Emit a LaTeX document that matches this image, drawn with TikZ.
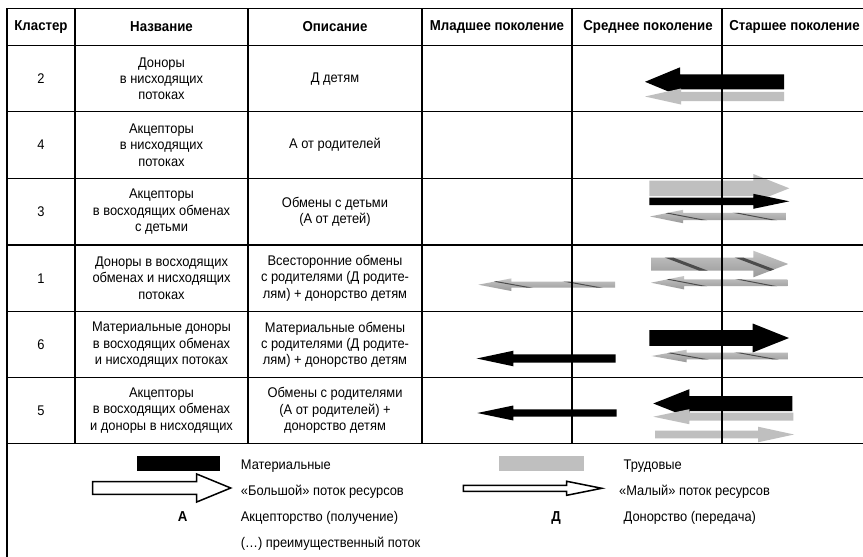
\documentclass[tikz,border=0pt]{standalone}
\usepackage{fontspec}
\setmainfont[FakeStretch=0.92]{Liberation Sans}
\newcommand{\harr}[7]{% #1 style; #2 tail; #3 tip; #4 cy; #5 shaft half; #6 head half; #7 head length
  \pgfmathsetmacro{\hb}{(#2>#3) ? #3+#7 : #3-#7}
  \path[#1] (#2,#4-#5) -- (\hb,#4-#5) -- (\hb,#4-#6) -- (#3,#4) -- (\hb,#4+#6) -- (\hb,#4+#5) -- (#2,#4+#5) -- cycle;
}
\newcommand{\twarr}[8]{% #1 tail; #2 tip; #3 cy; #4 shaft half; #5 head half; #6 head length; #7 stripe width; #8 period
  \pgfmathsetmacro{\hb}{(#1>#2) ? #2+#6 : #2-#6}
  \pgfmathsetmacro{\xmn}{min(#1,#2)}
  \pgfmathsetmacro{\xmx}{max(#1,#2)}
  \begin{scope}
    \clip (#1,#3-#4) -- (\hb,#3-#4) -- (\hb,#3-#5) -- (#2,#3) -- (\hb,#3+#5) -- (\hb,#3+#4) -- (#1,#3+#4) -- cycle;
    \shade[top color=gray!45, middle color=white, bottom color=gray!80] (\xmn,#3-#5) rectangle (\xmx,#3+#5);
    \foreach \k in {-1,...,3}{\draw[gray!60!black, line width=#7] ({\xmn+\k*#8},#3-#5) -- ++(#8,2*#5);}
  \end{scope}
}
\begin{document}
\begin{tikzpicture}[x=1pt,y=-1pt,
  grid/.style={line width=1.2pt, black},
  hdr/.style={font=\fontsize{14.4}{16}\selectfont\bfseries, inner sep=0pt},
  cell/.style={font=\fontsize{14}{16.3}\selectfont, align=center, inner sep=0pt},
  leg/.style={font=\fontsize{14}{16}\selectfont, anchor=base west, inner sep=0pt},
  legb/.style={font=\fontsize{14.4}{16}\selectfont\bfseries, anchor=base, inner sep=0pt},
  blk/.style={fill=black},
  gry/.style={fill=gray!50},
  openarr/.style={fill=white, draw=black, line width=1.5pt},
]
\fill[white] (0,0) rectangle (863,557);
\useasboundingbox (0,0) rectangle (863,557);

% ---------- arrows ----------
% row cluster 2
\harr{blk}{784}{645}{81.8}{7.5}{14.5}{35}
\harr{gry}{784}{645}{96.5}{4.7}{8}{36}
% row cluster 3
\harr{gry}{649.3}{789.3}{188.3}{7.7}{14.3}{36}
\harr{blk}{649.3}{789.3}{201.3}{3.7}{7.5}{36}
\twarr{786.7}{650}{216.5}{3.6}{6.7}{33}{1pt}{70}
% row cluster 1
\twarr{651}{788.3}{264}{6.5}{13.3}{35}{3pt}{70}
\twarr{787.3}{651}{282.7}{3.3}{6.7}{33}{1pt}{70}
\twarr{615}{478.3}{284.7}{3}{6.3}{33}{1pt}{70}
% row cluster 6
\harr{blk}{649.3}{789}{338}{7.8}{14.5}{36.3}
\twarr{788.3}{651.7}{356}{3.3}{6.3}{35}{1pt}{70}
\harr{blk}{615.7}{476.7}{358.5}{4.2}{7.8}{36.7}
% row cluster 5
\harr{blk}{792.3}{653.3}{403.5}{7.5}{14.3}{36}
\harr{gry}{793.3}{653.3}{416.7}{4}{7.5}{36}
\harr{gry}{655}{794}{434.5}{3.8}{7.8}{36}
\harr{blk}{616.7}{477.3}{413}{3.7}{7.5}{36}

% ---------- grid ----------
\foreach \yy in {8.3,45.5,111.7,178.3,245,311.5,377.8,443.3}
  \draw[grid] (7,\yy) -- (863,\yy);
\draw[grid] (7,8.3) -- (7,557);
\foreach \xx in {75,248,422,572,722}
  \draw[grid] (\xx,8.3) -- (\xx,443.3);

% ---------- header ----------
\node[hdr] (h1) at (41,27) {Кластер};
\node[hdr] (h2) at (161.5,27) {Название};
\node[hdr] (h3) at (335,27) {Описание};
\node[hdr] (h4) at (497,27) {Младшее поколение};
\node[hdr] (h5) at (648,27) {Среднее поколение};
\node[hdr] (h6) at (794.5,27) {Старшее поколение};

% ---------- rows ----------
\node[cell] (k1) at (41,78.6) {2};
\node[cell] (n1) at (161.5,78.6) {Доноры\\в нисходящих\\потоках};
\node[cell] (d1) at (335,78.6) {Д детям};

\node[cell] (k2) at (41,145) {4};
\node[cell] (n2) at (161.5,145) {Акцепторы\\в нисходящих\\потоках};
\node[cell] (d2) at (335,145) {А от родителей};

\node[cell] (k3) at (41,211.7) {3};
\node[cell] (n3) at (161.5,211.7) {Акцепторы\\в восходящих обменах\\с детьми};
\node[cell] (d3) at (335,211.7) {Обмены с детьми\\(А от детей)};

\node[cell] (k4) at (41,278.2) {1};
\node[cell] (n4) at (161.5,278.2) {Доноры в восходящих\\обменах и нисходящих\\потоках};
\node[cell] (d4) at (335,278.2) {Всесторонние обмены\\с родителями (Д родите-\\лям) + донорство детям};

\node[cell] (k5) at (41,344.7) {6};
\node[cell] (n5) at (161.5,344.7) {Материальные доноры\\в восходящих обменах\\и нисходящих потоках};
\node[cell] (d5) at (335,344.7) {Материальные обмены\\с родителями (Д родите-\\лям) + донорство детям};

\node[cell] (k6) at (41,410.5) {5};
\node[cell] (n6) at (161.5,410.5) {Акцепторы\\в восходящих обменах\\и доноры в нисходящих};
\node[cell] (d6) at (335,410.5) {Обмены с родителями\\(А от родителей) +\\донорство детям};

% ---------- legend ----------
\fill[black] (136.7,455.7) rectangle (220,471);
\fill[gray!50] (499.3,455.7) rectangle (584.3,471);
\harr{openarr}{92.7}{230.7}{488}{6.3}{14}{34}
\harr{openarr}{463.3}{601.7}{488.3}{3}{7}{35}
\node[legb] (la) at (182.7,521) {А};
\node[legb] (ld) at (556,521) {Д};
\node[leg] (l1) at (240.7,469.3) {Материальные};
\node[leg] (l2) at (240.7,495) {«Большой» поток ресурсов};
\node[leg] (l3) at (240.7,521) {Акцепторство (получение)};
\node[leg] (l4) at (240.7,547) {(…) преимущественный поток};
\node[leg] (r1) at (623.5,469.3) {Трудовые};
\node[leg] (r2) at (619,495) {«Малый» поток ресурсов};
\node[leg] (r3) at (623.5,521) {Донорство (передача)};
\end{tikzpicture}
\end{document}
